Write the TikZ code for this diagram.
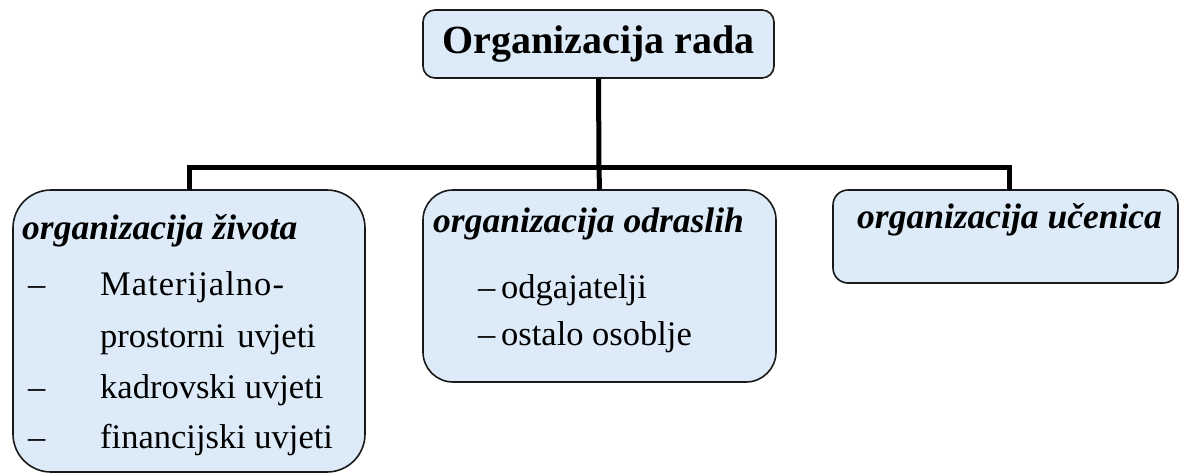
\documentclass[tikz,border=0pt]{standalone}
\usepackage{fontspec}
\setmainfont{Liberation Serif}
\begin{document}
\begin{tikzpicture}[x=1pt,y=1pt,
  box/.style={draw=black!90, line width=1.6pt, fill=boxfill, inner sep=0pt},
  conn/.style={draw=black, line width=5pt, line join=miter},
  txt/.style={inner sep=0pt, anchor=base west, font=\fontsize{34.5}{40}\selectfont},
  head/.style={txt, font=\fontsize{35.5}{40}\selectfont\bfseries\itshape},
]
\definecolor{boxfill}{RGB}{221,234,247}
\useasboundingbox (0,0) rectangle (1180,-474);
% boxes
\node[box, rounded corners=12pt, minimum width=351pt, minimum height=68pt] (top) at (598.5,-44) {};
\node[box, rounded corners=38pt, minimum width=352pt, minimum height=282pt] (lbox) at (189,-331) {};
\node[box, rounded corners=30pt, minimum width=353pt, minimum height=192pt] (mbox) at (599.5,-286) {};
\node[box, rounded corners=15pt, minimum width=345pt, minimum height=93pt] (rbox) at (1005.5,-236.5) {};
% connectors
\coordinate (j) at (599,-167);
\draw[conn] (top.south) -- (j);
\draw[conn] ([yshift=-0.8pt]lbox.north) |- (j) -| ([xshift=3.5pt,yshift=-0.8pt]rbox.north);
\draw[conn] (j) -- ([yshift=-0.8pt]mbox.north);
% texts
\node[inner sep=0pt, anchor=base, font=\fontsize{40}{46}\selectfont\bfseries] (ttl) at (598.5,-53) {Organizacija rada};
\node[head] (lh) at (22,-239) {organizacija života};
\node[txt] (ld1) at (28,-295) {–};
\node[txt] (l1) at (100,-295) {\addfontfeature{LetterSpace=3}Materijalno-};
\node[txt] (l1b) at (100,-347) {prostorni\hspace{4pt} uvjeti};
\node[txt] (ld2) at (28,-398) {–};
\node[txt] (l2) at (100,-398) {kadrovski uvjeti};
\node[txt] (ld3) at (28,-448) {–};
\node[txt] (l3) at (100,-448) {financijski uvjeti};
\node[head] (mh) at (433,-232) {organizacija odraslih};
\node[txt] (m1) at (478,-298) {–\,odgajatelji};
\node[txt] (m2) at (478,-345) {–\,ostalo osoblje};
\node[head] (rh) at (857,-228) {organizacija učenica};
\end{tikzpicture}
\end{document}
